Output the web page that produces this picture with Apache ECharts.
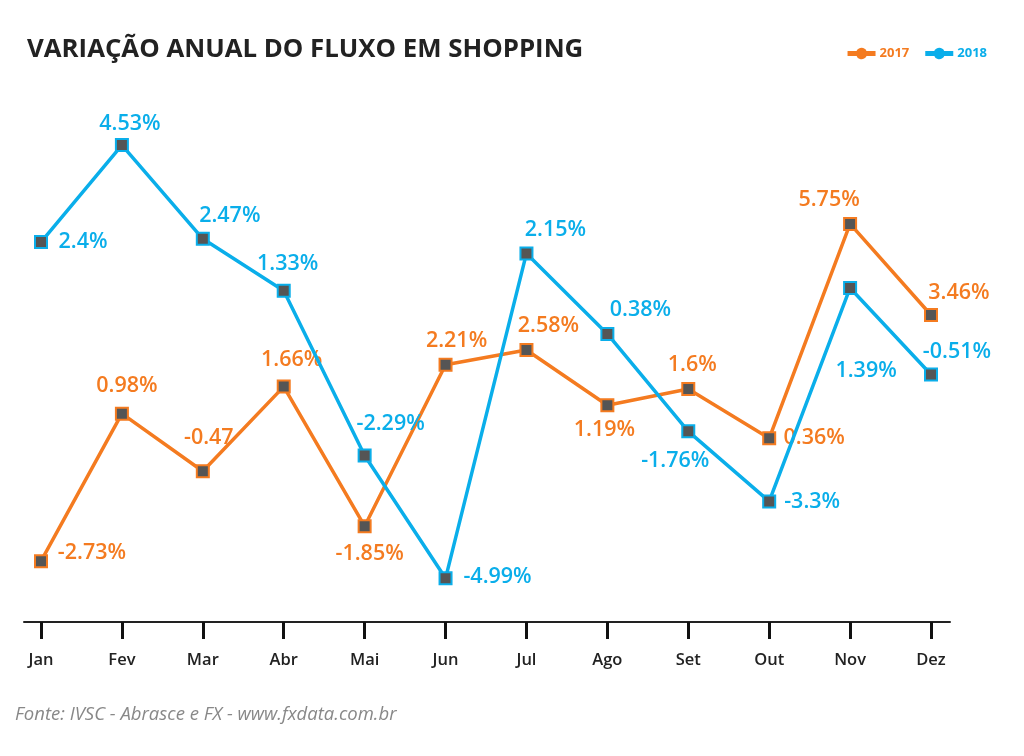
<!DOCTYPE html>
<html>
<head>
<meta charset="utf-8">
<script src="https://cdn.jsdelivr.net/npm/echarts@6/dist/echarts.min.js"></script>
<style>
html,body{margin:0;padding:0;background:#fff;}
#c{width:1024px;height:756px;}
</style>
</head>
<body>
<div id="c"></div>
<script>
const months = ['Jan','Fev','Mar','Abr','Mai','Jun','Jul','Ago','Set','Out','Nov','Dez'];
const values2017 = [-2.73, 0.98, -0.47, 1.66, -1.85, 2.21, 2.58, 1.19, 1.6, 0.36, 5.75, 3.46];
const values2018 = [2.4, 4.53, 2.47, 1.33, -2.29, -4.99, 2.15, 0.38, -1.76, -3.3, 1.39, -0.51];
const labels2017 = ['-2.73%','0.98%','-0.47','1.66%','-1.85%','2.21%','2.58%','1.19%','1.6%','0.36%','5.75%','3.46%'];
const labels2018 = ['2.4%','4.53%','2.47%','1.33%','-2.29%','-4.99%','2.15%','0.38%','-1.76%','-3.3%','1.39%','-0.51%'];

// label offsets (style only): [dx, dy] relative to the point
const offs2017 = [[51,-8],[5,-28],[6,-33],[8,-27],[5,28],[11,-24],[22,-24],[-3,25],[4,-24],[45,0],[-21,-24],[28,-22]];
const offs2018 = [[42,0],[8,-21],[27,-23],[4,-27],[26,-32],[52,-1],[29,-24],[33,-24],[-13,30],[43,0],[16,83],[26,-23]];

const ORANGE = '#F47B20', BLUE = '#0AAEEA';
const FONT = '"Open Sans", "Noto Sans", sans-serif';
const LEGEND_ICON = 'path://M0,3.6L8.6,3.6A4.6,4.6,0,0,1,17.4,3.6L26,3.6L26,6.4L17.4,6.4A4.6,4.6,0,0,1,8.6,6.4L0,6.4Z';

function buildData(vals, labels, offs, color) {
  return vals.map((v, i) => ({
    value: v,
    label: {
      show: true,
      position: 'inside',
      offset: offs[i],
      formatter: labels[i],
      color: color,
      fontSize: 21.5,
      fontFamily: FONT,
      fontWeight: 600
    }
  }));
}

const chart = echarts.init(document.getElementById('c'), null, {renderer: 'canvas'});
chart.setOption({
  backgroundColor: '#fff',
  animation: false,
  title: {
    text: 'VARIAÇÃO ANUAL DO FLUXO EM SHOPPING',
    left: 22, top: 32,
    textStyle: {fontFamily: FONT, fontSize: 25.8, fontWeight: 'bold', color: '#222'}
  },
  legend: {
    right: 32, top: 42,
    itemWidth: 26, itemHeight: 10, itemGap: 16,
    textStyle: {fontFamily: FONT, fontSize: 13, fontWeight: 'bold'},
    data: [
      {name: '2017', icon: LEGEND_ICON, itemStyle: {color: ORANGE}, textStyle: {color: ORANGE}},
      {name: '2018', icon: LEGEND_ICON, itemStyle: {color: BLUE}, textStyle: {color: BLUE}}
    ]
  },
  graphic: [{
    type: 'text', left: 15, top: 705,
    style: {text: 'Fonte: IVSC - Abrasce e FX - www.fxdata.com.br', fill: '#888', font: 'italic 18.5px ' + FONT}
  }],
  grid: [
    {left: 41, right: 93, top: 80, bottom: 134},
    {left: 24, right: 74, top: 80, bottom: 134}
  ],
  xAxis: [
    {
      type: 'category', gridIndex: 0, data: months, boundaryGap: false,
      axisLine: {show: false, onZero: false},
      axisTick: {show: true, length: 17, lineStyle: {color: '#111', width: 3}},
      axisLabel: {color: '#222', fontSize: 16.5, fontFamily: FONT, margin: 30, fontWeight: 600},
      splitLine: {show: false}
    },
    {
      type: 'category', gridIndex: 1, data: months, boundaryGap: false,
      axisLine: {show: true, onZero: false, lineStyle: {color: '#222', width: 2}},
      axisTick: {show: false}, axisLabel: {show: false}, splitLine: {show: false}
    }
  ],
  yAxis: [
    {type: 'value', gridIndex: 0, min: -4.26, max: 9.37, show: false, splitLine: {show: false}},
    {type: 'value', gridIndex: 0, min: -5.95, max: 5.96, show: false, splitLine: {show: false}},
    {type: 'value', gridIndex: 1, min: 0, max: 1, show: false, splitLine: {show: false}}
  ],
  series: [
    {
      name: '2017', type: 'line', xAxisIndex: 0, yAxisIndex: 0,
      data: buildData(values2017, labels2017, offs2017, ORANGE),
      lineStyle: {color: ORANGE, width: 3.5},
      symbol: 'rect', symbolSize: 12,
      itemStyle: {color: '#555', borderColor: ORANGE, borderWidth: 2},
      z: 3
    },
    {
      name: '2018', type: 'line', xAxisIndex: 0, yAxisIndex: 1,
      data: buildData(values2018, labels2018, offs2018, BLUE),
      lineStyle: {color: BLUE, width: 3.5},
      symbol: 'rect', symbolSize: 12,
      itemStyle: {color: '#555', borderColor: BLUE, borderWidth: 2},
      z: 4
    },
    {
      type: 'line', xAxisIndex: 1, yAxisIndex: 2, data: [], silent: true
    }
  ]
});
</script>
</body>
</html>
